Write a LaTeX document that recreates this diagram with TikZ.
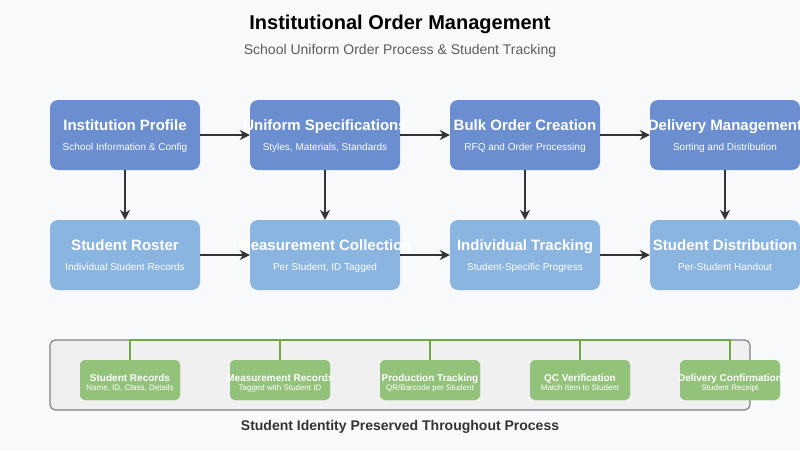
\documentclass[tikz,border=0pt]{standalone}
\usepackage{fontspec}
\setmainfont{Liberation Sans}
\usetikzlibrary{arrows.meta}
\definecolor{bgc}{HTML}{F8F9FA}
\definecolor{topc}{HTML}{6A8ECF}
\definecolor{lowc}{HTML}{8AB5E0}
\definecolor{grc}{HTML}{93C27B}
\definecolor{grl}{HTML}{6DAA45}
\definecolor{boxc}{HTML}{F0F0F0}
\definecolor{dark}{HTML}{333333}
\begin{document}
\begin{tikzpicture}[x=1pt,y=-1pt,>=Stealth,
 top/.style={fill=topc,rounded corners=8pt,minimum width=150pt,minimum height=70pt,inner sep=0pt},
 low/.style={top,fill=lowc},
 grn/.style={fill=grc,rounded corners=5pt,minimum width=100pt,minimum height=40pt,inner sep=0pt},
 ttl/.style={text=white,font=\fontsize{15}{18}\selectfont\bfseries,inner sep=0pt,anchor=base},
 sub/.style={text=white,font=\fontsize{10}{12}\selectfont,inner sep=0pt,anchor=base},
 gttl/.style={text=white,font=\fontsize{10}{12}\selectfont\bfseries,inner sep=0pt,anchor=base},
 gsub/.style={text=white,font=\fontsize{8}{10}\selectfont,inner sep=0pt,anchor=base},
 arr/.style={->,draw=dark,line width=2pt,>={Stealth[length=10pt,width=10pt]}},
 bus/.style={draw=grl,line width=2pt}]
\fill[bgc] (0,0) rectangle (800,450);
\useasboundingbox (0,0) rectangle (800,450);
% title
\node[font=\fontsize{20}{24}\selectfont\bfseries,text=black,anchor=base,inner sep=0pt] (head) at (400,29) {Institutional Order Management};
\node[font=\fontsize{14}{17}\selectfont,text=dark!80,anchor=base,inner sep=0pt] (subhead) at (400,54) {School Uniform Order Process \& Student Tracking};
% upper row
\node[top] (prof) at (125,135) {};
\node[top] (spec) at (325,135) {};
\node[top] (bulk) at (525,135) {};
\node[top] (deli) at (725,135) {};
\node[ttl] at (125,130.5) {Institution Profile};
\node[sub] at (125,150) {School Information \& Config};
\node[ttl] at (325,130.5) {Uniform Specifications};
\node[sub] at (325,150) {Styles, Materials, Standards};
\node[ttl] at (525,130.5) {Bulk Order Creation};
\node[sub] at (525,150) {RFQ and Order Processing};
\node[ttl] at (725,130.5) {Delivery Management};
\node[sub] at (725,150) {Sorting and Distribution};
% lower row
\node[low] (rost) at (125,255) {};
\node[low] (meas) at (325,255) {};
\node[low] (indi) at (525,255) {};
\node[low] (dist) at (725,255) {};
\node[ttl] at (125,250.5) {Student Roster};
\node[sub] at (125,270) {Individual Student Records};
\node[ttl] at (325,250.5) {Measurement Collection};
\node[sub] at (325,270) {Per Student, ID Tagged};
\node[ttl] at (525,250.5) {Individual Tracking};
\node[sub] at (525,270) {Student-Specific Progress};
\node[ttl] at (725,250.5) {Student Distribution};
\node[sub] at (725,270) {Per-Student Handout};
% arrows
\draw[arr] (prof) -- (spec);
\draw[arr] (spec) -- (bulk);
\draw[arr] (bulk) -- (deli);
\draw[arr] (rost) -- (meas);
\draw[arr] (meas) -- (indi);
\draw[arr] (indi) -- (dist);
\draw[arr] (prof) -- (rost);
\draw[arr] (spec) -- (meas);
\draw[arr] (bulk) -- (indi);
\draw[arr] (deli) -- (dist);
% identity strip
\node[fill=boxc,draw=gray,line width=1.2pt,rounded corners=6pt,minimum width=700pt,minimum height=70pt,inner sep=0pt] (strip) at (400,375) {};
\node[grn] (srec) at (130,380) {};
\node[grn] (mrec) at (280,380) {};
\node[grn] (prod) at (430,380) {};
\node[grn] (qcv) at (580,380) {};
\node[grn] (dcon) at (730,380) {};
\coordinate (bustop) at (400,340);
\draw[bus] (srec.north) -- (srec.north |- bustop) -| (dcon.north);
\draw[bus] (mrec.north) -- (mrec.north |- bustop);
\draw[bus] (prod.north) -- (prod.north |- bustop);
\draw[bus] (qcv.north) -- (qcv.north |- bustop);
\node[grn] at (srec) {};
\node[grn] at (mrec) {};
\node[grn] at (prod) {};
\node[grn] at (qcv) {};
\node[grn] at (dcon) {};
\node[gttl] at (130,381) {Student Records};
\node[gsub] at (130,390) {Name, ID, Class, Details};
\node[gttl] at (280,381) {Measurement Records};
\node[gsub] at (280,390) {Tagged with Student ID};
\node[gttl] at (430,381) {Production Tracking};
\node[gsub] at (430,390) {QR/Barcode per Student};
\node[gttl] at (580,381) {QC Verification};
\node[gsub] at (580,390) {Match Item to Student};
\node[gttl] at (730,381) {Delivery Confirmation};
\node[gsub] at (730,390) {Student Receipt};
\node[font=\fontsize{14}{17}\selectfont\bfseries,text=dark,anchor=base,inner sep=0pt] (foot) at (400,430) {Student Identity Preserved Throughout Process};
\end{tikzpicture}
\end{document}
